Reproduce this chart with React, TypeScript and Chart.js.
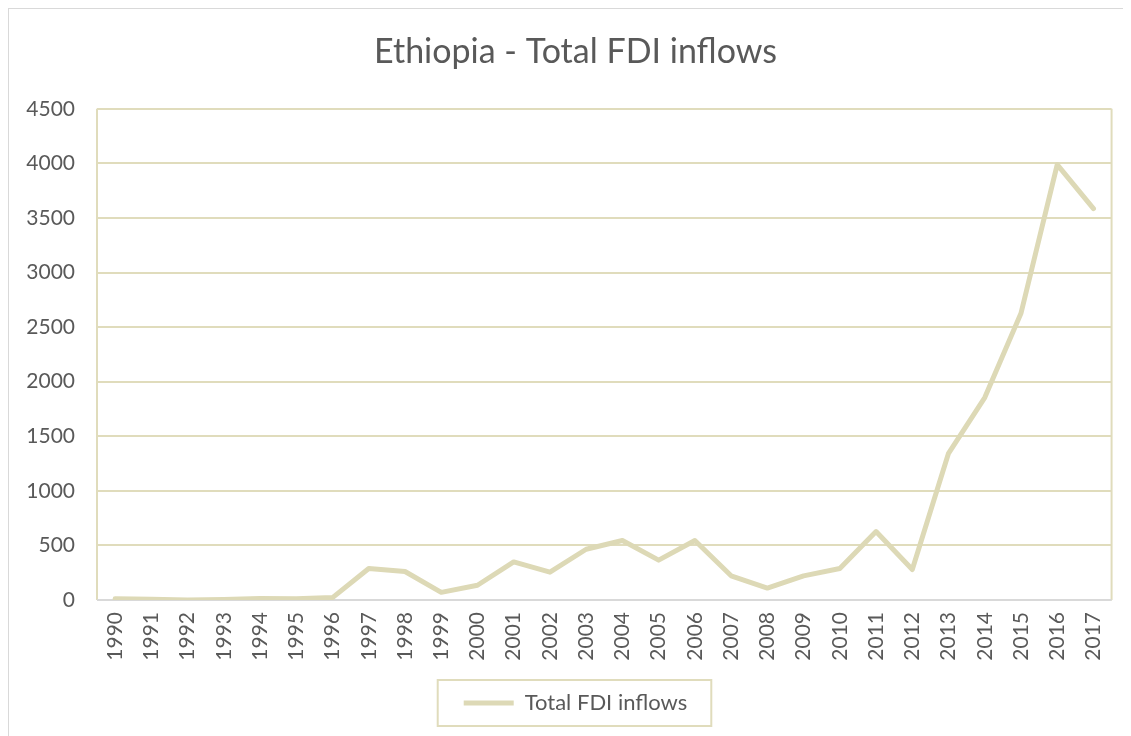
import React, { useEffect, useRef } from "react";
import { Chart, registerables } from "chart.js";

Chart.register(...registerables);

const years = [
  "1990", "1991", "1992", "1993", "1994", "1995", "1996", "1997", "1998", "1999",
  "2000", "2001", "2002", "2003", "2004", "2005", "2006", "2007", "2008", "2009",
  "2010", "2011", "2012", "2013", "2014", "2015", "2016", "2017",
];

const fdiInflows = [
  12, 6, 1, 4, 14, 12, 22, 288, 261, 70,
  135, 349, 255, 465, 545, 365, 545, 222, 109, 221,
  288, 627, 279, 1344, 1855, 2627, 3989, 3586,
];

const yTickMin = 0;
const yTickMax = 4500;
const yTickStep = 500;

const TAN = "#DDD9B6";
const GRID = "#E0DCBC";
const AXIS_GRAY = "#D9D9D9";
const TEXT = "#595959";
const FONT = "Lato, 'Open Sans', sans-serif";
const CENTER_SHIFT = 15;

// Plot-area frame in tan, with a grey baseline along the category axis
const plotFrame = {
  id: "plotFrame",
  beforeDatasetsDraw(chart: any) {
    const { ctx, chartArea: a } = chart;
    ctx.save();
    ctx.strokeStyle = GRID;
    ctx.lineWidth = 2;
    ctx.beginPath();
    ctx.moveTo(a.left, a.bottom);
    ctx.lineTo(a.left, a.top);
    ctx.moveTo(a.right, a.top);
    ctx.lineTo(a.right, a.bottom);
    ctx.stroke();
    ctx.strokeStyle = AXIS_GRAY;
    ctx.beginPath();
    ctx.moveTo(a.left, a.bottom);
    ctx.lineTo(a.right, a.bottom);
    ctx.stroke();
    ctx.restore();
  },
};

// Centre the title and legend under the plot area instead of the whole canvas
const centreShift = {
  id: "centreShift",
  afterLayout(chart: any) {
    const t = chart.titleBlock;
    if (t) {
      t.left += CENTER_SHIFT;
      t.right += CENTER_SHIFT;
    }
    const lg = chart.legend;
    if (lg) {
      lg.left += CENTER_SHIFT;
      lg.right += CENTER_SHIFT;
      (lg.legendHitBoxes || []).forEach((b: any) => {
        b.left += CENTER_SHIFT;
      });
    }
  },
};

// Rectangle around the legend entries
const legendFrame = {
  id: "legendFrame",
  afterDraw(chart: any) {
    const boxes = chart.legend?.legendHitBoxes;
    if (!boxes || !boxes.length) return;
    const b = boxes[0];
    const { ctx } = chart;
    ctx.save();
    ctx.strokeStyle = GRID;
    ctx.lineWidth = 2;
    const cy = b.top + b.height / 2;
    ctx.strokeRect(b.left - 26, cy - 23, b.width + 50, 46);
    ctx.restore();
  },
};

export default function App() {
  const canvasRef = useRef<HTMLCanvasElement | null>(null);

  useEffect(() => {
    document.body.style.overflow = "hidden";
    const canvas = canvasRef.current;
    if (!canvas) return;
    const chart = new Chart(canvas, {
      type: "line",
      data: {
        labels: years,
        datasets: [
          {
            label: "Total FDI inflows",
            data: fdiInflows,
            borderColor: TAN,
            backgroundColor: TAN,
            borderWidth: 5,
            borderCapStyle: "round",
            borderJoinStyle: "round",
            pointRadius: 0,
            pointHoverRadius: 0,
            tension: 0,
            fill: false,
          },
        ],
      },
      options: {
        responsive: false,
        animation: false,
        layout: { padding: { left: 0, right: 19, top: 0, bottom: 12 } },
        plugins: {
          title: {
            display: true,
            text: "Ethiopia - Total FDI inflows",
            color: TEXT,
            font: { family: FONT, size: 34, weight: "normal" },
            padding: { top: 23, bottom: 36 },
          },
          legend: {
            position: "bottom",
            labels: {
              usePointStyle: true,
              pointStyle: "line",
              pointStyleWidth: 50,
              color: TEXT,
              font: { family: FONT, size: 22 },
              padding: 10,
            },
          },
          tooltip: { enabled: false },
        },
        scales: {
          x: {
            type: "category",
            offset: true,
            grid: { display: false, drawTicks: false },
            border: { display: false },
            ticks: {
              color: TEXT,
              font: { family: FONT, size: 21 },
              minRotation: 90,
              maxRotation: 90,
              autoSkip: false,
              padding: 12,
            },
            afterFit(scale: any) {
              scale.height = 82;
            },
          },
          y: {
            min: yTickMin,
            max: yTickMax,
            grid: { color: GRID, lineWidth: 2, drawTicks: false },
            border: { display: false },
            ticks: {
              stepSize: yTickStep,
              color: TEXT,
              font: { family: FONT, size: 21 },
              padding: 22,
              callback: (v: any) => String(v),
            },
            afterFit(scale: any) {
              scale.width = 88;
            },
          },
        },
      },
      plugins: [plotFrame, centreShift, legendFrame],
    });
    return () => chart.destroy();
  }, []);

  return (
    <div
      style={{
        width: 1140,
        height: 740,
        border: `1px solid ${AXIS_GRAY}`,
        boxSizing: "border-box",
        background: "#fff",
      }}
    >
      <canvas ref={canvasRef} width={1122} height={727} style={{ display: "block" }} />
    </div>
  );
}
